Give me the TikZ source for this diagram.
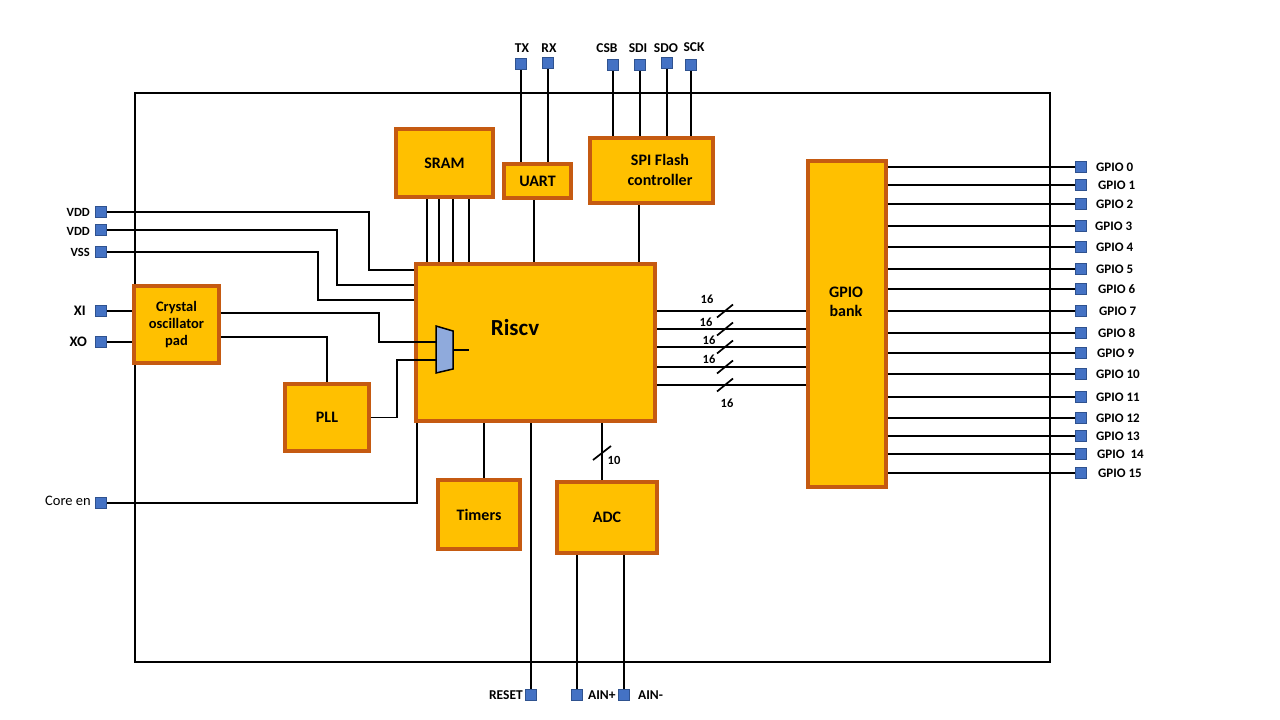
\documentclass[tikz,border=0pt]{standalone}
\usepackage{fontspec}
\setmainfont{Carlito}
\usetikzlibrary{backgrounds}
\definecolor{boxfill}{HTML}{FFC000}
\definecolor{boxedge}{HTML}{C55A11}
\definecolor{padfill}{HTML}{4472C4}
\definecolor{padedge}{HTML}{2F528F}
\definecolor{muxfill}{HTML}{8FAADC}
\begin{document}
\begin{tikzpicture}[x=1pt,y=-1pt,
  block/.style={draw=boxedge,fill=boxfill,line width=3.2pt,inner sep=0pt,
    align=center,font=\bfseries\fontsize{16}{19}\selectfont},
  btext/.style={inner sep=0pt,align=center,font=\bfseries\fontsize{16}{19.5}\selectfont},
  pad/.style={draw=padedge,fill=padfill,line width=0.8pt,minimum size=11pt,inner sep=0pt},
  wire/.style={line width=1.9pt},
  plbl/.style={inner sep=0pt,font=\bfseries\fontsize{13.5}{15}\selectfont},
  glbl/.style={inner sep=0pt,anchor=west,font=\bfseries\fontsize{13}{15}\selectfont},
  buslbl/.style={inner sep=0pt,font=\bfseries\fontsize{12.5}{14}\selectfont},
  slash/.style={line width=1.7pt}]
\useasboundingbox (0,0) rectangle (1280,720);

% ---------- functional blocks ----------
\node[block,minimum width=239pt,minimum height=157pt] (riscv) at (535.5,342.5) {};
\node[btext,font=\bfseries\fontsize{23}{25}\selectfont] (riscvtxt) at (515,328) {Riscv};
\node[block,minimum width=97pt,minimum height=68pt] (sram) at (444.5,163) {SRAM};
\node[block,minimum width=67pt,minimum height=34pt] (uart) at (537.5,181) {\raisebox{-2pt}{UART}};
\node[block,minimum width=123pt,minimum height=65pt] (spi) at (651.5,170.5) {};
\node[btext] (spitxt) at (660,170) {SPI Flash\\controller};
\node[block,minimum width=85pt,minimum height=77pt,font=\bfseries\fontsize{14.5}{17}\selectfont] (xtal) at (176.5,324.5) {Crystal\\oscillator\\pad};
\node[block,minimum width=84pt,minimum height=67pt] (pll) at (327,417.5) {PLL};
\node[block,minimum width=82pt,minimum height=69pt] (timers) at (479,514.5) {Timers};
\node[block,minimum width=100pt,minimum height=71pt] (adc) at (607,517.5) {ADC};
\node[block,minimum width=78pt,minimum height=326pt] (bank) at (847,324) {};
\node[btext] (banktxt) at (846,302) {GPIO\\bank};

% ---------- pads ----------
\foreach \n/\x/\y in {tx/521/64, rx/548/63, csb/613/65, sdi/640/65, sdo/667/63, sck/691/65,
    vdda/101/212, vddb/101/230, vss/101/252, xi/101/311, xo/101/342, coreen/101/503,
    reset/531/695, ainp/577/695, ainm/624/695}
  \node[pad] (\n) at (\x,\y) {};

% top pad labels
\node[plbl,anchor=base] (ltx) at (522,52) {TX};
\node[plbl,anchor=base] (lrx) at (549,52) {RX};
\node[plbl,anchor=base] (lcsb) at (607,52) {CSB};
\node[plbl,anchor=base] (lsdi) at (638,52) {SDI};
\node[plbl,anchor=base] (lsdo) at (666,52.5) {SDO};
\node[plbl,anchor=base] (lsck) at (694,51.5) {SCK};
% left pad labels
\node[plbl,anchor=east,font=\bfseries\fontsize{12.5}{14}\selectfont] (lvdda) at (90,212) {VDD};
\node[plbl,anchor=east,font=\bfseries\fontsize{12.5}{14}\selectfont] (lvddb) at (90,231) {VDD};
\node[plbl,anchor=east,font=\bfseries\fontsize{12.5}{14}\selectfont] (lvss) at (90,252) {VSS};
\node[plbl,anchor=east,font=\bfseries\fontsize{14.5}{16}\selectfont] (lxi) at (86,311) {XI};
\node[plbl,anchor=east,font=\bfseries\fontsize{14.5}{16}\selectfont] (lxo) at (87,342) {XO};
\node[plbl,anchor=east,font=\fontsize{14.5}{16}\selectfont] (lcore) at (91,501) {Core en};
% bottom pad labels
\node[plbl,anchor=east,font=\bfseries\fontsize{13.5}{15}\selectfont] (lreset) at (523,695) {RESET};
\node[plbl,anchor=west,font=\bfseries\fontsize{13.5}{15}\selectfont] (lainp) at (588,695) {AIN+};
\node[plbl,anchor=west,font=\bfseries\fontsize{13.5}{15}\selectfont] (lainm) at (638,695) {AIN-};

% GPIO pads and labels
\foreach \i/\y/\lx/\txt in {0/167/1096/{GPIO 0}, 1/185/1098/{GPIO 1}, 2/204/1096/{GPIO 2},
    3/226/1095/{GPIO 3}, 4/247/1096/{GPIO 4}, 5/269/1096/{GPIO 5}, 6/289/1098/{GPIO 6},
    7/311/1099/{GPIO 7}, 8/333/1098/{GPIO 8}, 9/353/1097/{GPIO 9}, 10/374/1096/{GPIO 10},
    11/397/1096/{GPIO 11}, 12/418/1096/{GPIO 12}, 13/436/1096/{GPIO 13},
    14/454/1097/{GPIO\ \ 14}, 15/473/1098/{GPIO 15}} {
  \node[pad] (gp\i) at (1081,\y) {};
  \node[glbl] (lgp\i) at (\lx,\y) {\txt};
}

% x positions of wires that leave blocks off-centre
\coordinate (s1) at (427,0);
\coordinate (s2) at (439,0);
\coordinate (s3) at (453,0);
\coordinate (s4) at (469,0);
\coordinate (ux) at (534,0);
\coordinate (px) at (639,0);
\coordinate (tx0) at (484,0);
\coordinate (ax) at (602,0);
% bends of supply and clock wires
\coordinate (c1) at (369,270);
\coordinate (c2) at (337,285);
\coordinate (c3) at (318,300);
\coordinate (k1) at (379,342);
\coordinate (k2) at (397,360);
% clock multiplexer terminals
\coordinate (mi1) at (436,342);
\coordinate (mi2) at (436,360);
\coordinate (mo) at (453,350);
\coordinate (mox) at (469,350);
% bus rows between core and GPIO bank
\coordinate (b1) at (0,311);
\coordinate (b2) at (0,329);
\coordinate (b3) at (0,347);
\coordinate (b4) at (0,367);
\coordinate (b5) at (0,385);

\begin{scope}[on background layer]
  \fill[white] (0,0) rectangle (1280,720);
  % chip outline
  \node[draw,line width=1.9pt,minimum width=915pt,minimum height=569pt,inner sep=0pt] (chip) at (592.5,377.5) {};

  % external serial pins
  \draw[wire] (tx.south) -- (tx.south |- uart.north);
  \draw[wire] (rx.south) -- (rx.south |- uart.north);
  \draw[wire] (csb.south) -- (csb.south |- spi.north);
  \draw[wire] (sdi.south) -- (sdi.south |- spi.north);
  \draw[wire] (sdo.south) -- (sdo.south |- spi.north);
  \draw[wire] (sck.south) -- (sck.south |- spi.north);

  % memory and peripherals to core
  \foreach \s in {s1,s2,s3,s4}
    \draw[wire] (sram.south -| \s) -- (riscv.north -| \s);
  \draw[wire] (uart.south -| ux) -- (riscv.north -| ux);
  \draw[wire] (spi.south -| px) -- (riscv.north -| px);

  % supplies
  \draw[wire] (vdda.east) -| (c1) -- (c1 -| riscv.west);
  \draw[wire] (vddb.east) -| (c2) -- (c2 -| riscv.west);
  \draw[wire] (vss.east) -| (c3) -- (c3 -| riscv.west);

  % crystal pins and PLL input
  \draw[wire] (xi.east) -- (xi.east -| xtal.west);
  \draw[wire] (xo.east) -- (xo.east -| xtal.west);
  \draw[wire] ([yshift=-12.5pt]xtal.east) -| (pll.north);

  % core enable
  \draw[wire] (coreen.east) -| ([xshift=3pt]riscv.south west);

  % bottom side
  \draw[wire] (riscv.south -| tx0) -- (timers.north -| tx0);
  \draw[wire] (riscv.south -| reset) -- (reset.north);
  \draw[wire] (riscv.south -| ax) -- (adc.north -| ax);
  \draw[wire] (adc.south -| ainp) -- (ainp.north);
  \draw[wire] (adc.south -| ainm) -- (ainm.north);

  % 16-bit buses to the GPIO bank
  \foreach \b in {b1,b2,b3,b4,b5}
    \draw[wire] (riscv.east |- \b) -- (bank.west |- \b);

  % GPIO outputs
  \foreach \i in {0,...,15}
    \draw[wire] (gp\i.west) -- (gp\i.west -| bank.east);
\end{scope}

% clock selection into the core (drawn over the core block)
\draw[wire] ([yshift=11.5pt]xtal.east) -| (k1) -- (mi1);
\draw[wire] (pll.east) -| (k2) -- (mi2);
\draw[wire] (mo) -- (mox);
\draw[fill=muxfill,line width=1.5pt] (436,326) -- (453,331) -- (453,369) -- (436,373) -- cycle;

% bus width marks
\foreach \y in {311,329,347,367,385}
  \draw[slash] (717,\y+6.5) -- (733,\y-6.5);
\draw[slash] (593,460) -- (611,446);
\node[buslbl] (w1) at (707,299) {16};
\node[buslbl] (w2) at (706,322) {16};
\node[buslbl] (w3) at (709,340) {16};
\node[buslbl] (w4) at (709,359) {16};
\node[buslbl] (w5) at (727,403) {16};
\node[buslbl] (w6) at (614,460) {10};
\end{tikzpicture}
\end{document}
